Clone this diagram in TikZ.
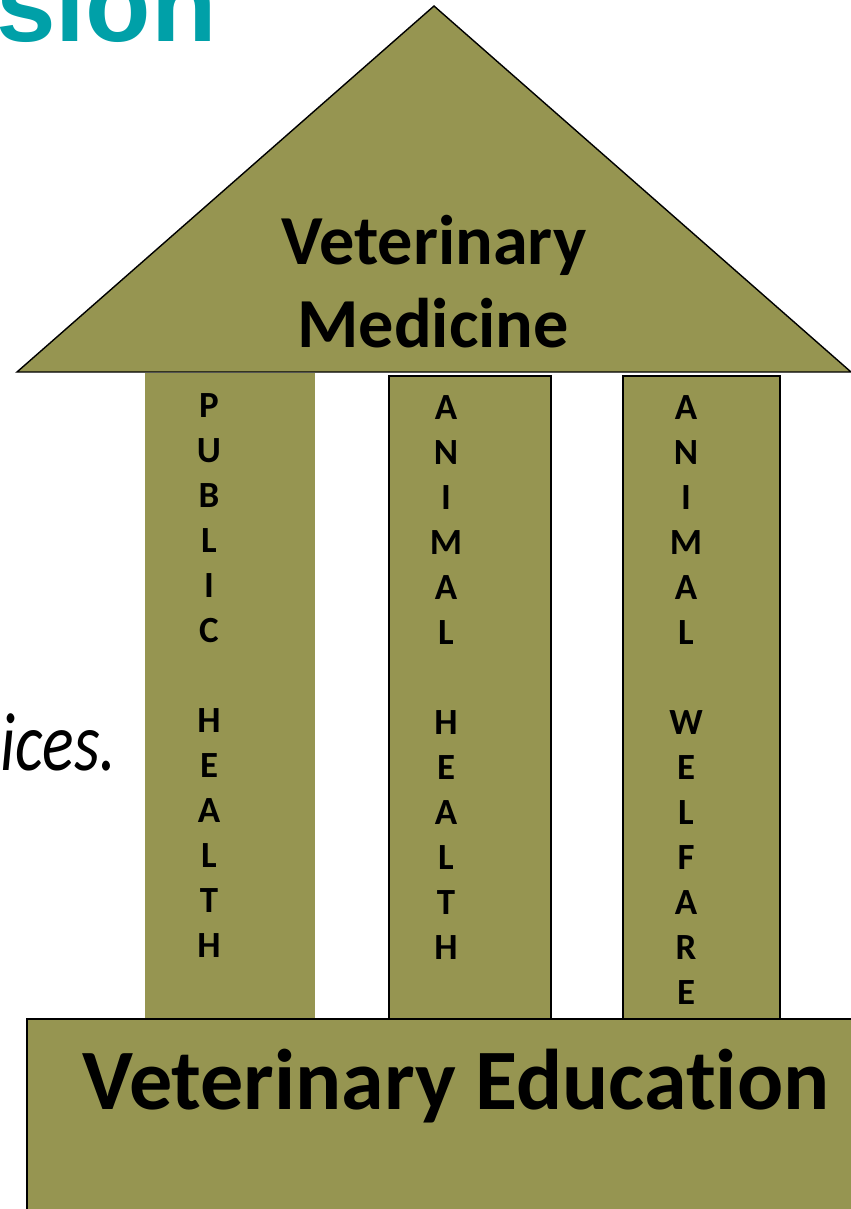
\documentclass[tikz,border=0pt]{standalone}
\usepackage{fontspec}
\usepackage{graphicx}
\usepackage{tikz}
\usetikzlibrary{positioning}
\setmainfont{Carlito}[Ligatures=NoCommon]
\newfontfamily\headfont{Liberation Sans}
\definecolor{olivebar}{RGB}{150,149,81}
\definecolor{tealhead}{RGB}{0,160,168}

\tikzset{
  letter/.style={anchor=base, inner sep=0pt, font=\bfseries\fontsize{21}{21}\selectfont},
  bigtitle/.style={anchor=base, inner sep=0pt, font=\bfseries\fontsize{40}{40}\selectfont}
}

\begin{document}
\begin{tikzpicture}[x=0.02cm, y=-0.02cm]
    \useasboundingbox (0,0) rectangle (851,1209);

    % roof
    \draw[fill=olivebar, draw=black, line width=0.8pt] (17,372) -- (434,6) -- (851,372) -- cycle;
    \node[bigtitle] (vet) at (434,265) {Veterinary};
    \node[bigtitle] (med) at (433,347) {Medicine};

    % pillars
    \fill[olivebar] (145,372.6) rectangle (315,1019);
    \draw[fill=olivebar, draw=black, line width=1.1pt] (389,376) rectangle (551,1019);
    \draw[fill=olivebar, draw=black, line width=1.1pt] (623,376) rectangle (780,1019);

    \foreach \ch [count=\i] in {P,U,B,L,I,C,{},H,E,A,L,T,H} { \node[letter] (pub-\i) at (209, 417+45*\i-45) {\ch}; }
    \foreach \ch [count=\i] in {A,N,I,M,A,L,{},H,E,A,L,T,H} { \node[letter] (ahe-\i) at (446, 419+45*\i-45) {\ch}; }
    \foreach \ch [count=\i] in {A,N,I,M,A,L,{},W,E,L,F,A,R,E} { \node[letter] (awe-\i) at (686, 419+45*\i-45) {\ch}; }

    % base
    \draw[fill=olivebar, draw=black, line width=0.8pt] (27,1019) rectangle (870,1225);
    \node[anchor=base, inner sep=0pt, font=\bfseries\fontsize{49}{49}\selectfont] (edu) at (456,1109) {Veterinary Education};

    % cut-off slide text
    \node[anchor=base west, inner sep=0pt, text=tealhead, font=\headfont\bfseries\fontsize{61}{61}\selectfont] (sion) at (-4,42) {sion};
    \node[anchor=base east, inner sep=0pt, font=\itshape\fontsize{47}{47}\selectfont] (ices) at (117,770) {\scalebox{0.8}[1]{ices.}};
\end{tikzpicture}
\end{document}
